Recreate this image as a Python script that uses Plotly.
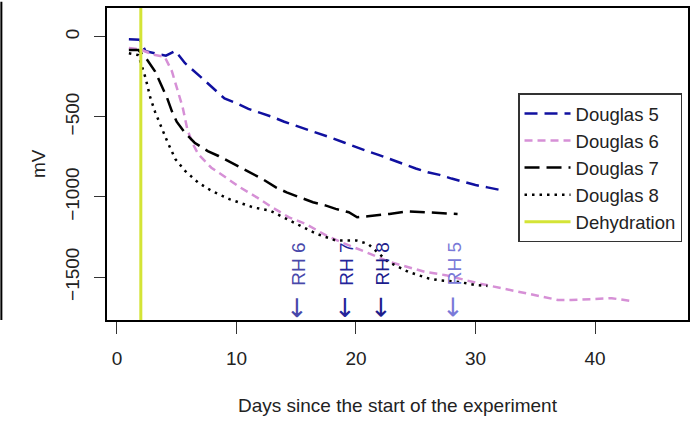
import plotly.graph_objects as go

# ---- data ----
d5_days = [1, 1.9, 2.4, 3.3, 4.1, 4.9, 5.7, 7, 8, 9, 10, 11, 12, 13, 14, 15, 16, 17, 18, 19, 20,
           21, 22, 23, 24, 25, 26, 27, 28, 29, 30, 31, 32]
d5_mv = [-15, -18, -90, -105, -118, -88, -165, -250, -320, -385, -415, -450, -475, -500, -530,
         -555, -578, -605, -632, -660, -690, -715, -740, -768, -795, -822, -845, -862, -885,
         -905, -925, -940, -955]

d6_days = [1, 2, 3, 4, 4.6, 5.0, 5.5, 5.9, 6.3, 6.8, 7.9, 9.3, 10.3, 11.7, 13, 14.4, 15.8, 17.5,
           19, 20.8, 22.8, 25.8, 27.5, 30.3, 33, 35.3, 36.9, 38, 40.6, 41.4, 43]
d6_mv = [-70, -80, -110, -125, -215, -320, -440, -580, -660, -733, -817, -888, -940, -1002, -1065,
         -1127, -1168, -1240, -1290, -1343, -1405, -1468, -1488, -1540, -1581, -1616, -1643,
         -1643, -1632, -1632, -1649]

d7_days = [1, 1.8, 2.4, 3.2, 4.2, 4.6, 5.0, 5.7, 6.5, 7.6, 8.5, 9.6, 10.3, 11.4, 12.2, 13.3, 14.2,
           15.3, 16.4, 17.5, 18.3, 19.4, 20.1, 21, 22.8, 24.3, 25.5, 28.5]
d7_mv = [-83, -83, -130, -217, -382, -465, -530, -600, -661, -713, -744, -786, -816, -857, -889,
         -940, -971, -1002, -1033, -1054, -1074, -1095, -1127, -1120, -1106, -1089, -1095, -1106]

d8_days = [1, 1.8, 2.4, 2.8, 3.2, 3.6, 4.2, 4.9, 5.7, 6.8, 7.9, 9.4, 11.4, 12.8, 14.2, 15, 16.7,
           18.3, 20, 21, 22.7, 24.4, 26.1, 27, 28.6, 30, 31]
d8_mv = [-103, -114, -258, -382, -470, -545, -651, -765, -837, -910, -961, -1013, -1065, -1085,
         -1137, -1168, -1230, -1271, -1271, -1292, -1405, -1468, -1509, -1520, -1530, -1550, -1555]

dehydration_day = 2

rh_days = [15, 19, 22, 28]
rh_labels = ["RH 6", "RH 7", "RH 8", "RH 5"]
rh_colors = ["#4848aa", "#24249a", "#1c1c8c", "#7a7ad8"]

x_ticks = [0, 10, 20, 30, 40]
y_ticks = [0, -500, -1000, -1500]

x_range = [-0.83, 47.78]
y_range = [-1768, 180]

FONT = "Arial, Liberation Sans, sans-serif"

fig = go.Figure()
fig.add_trace(go.Scatter(x=d5_days, y=d5_mv, mode="lines", name="Douglas 5",
                         line=dict(color="#1010a0", width=2.5, dash="13px,7px")))
fig.add_trace(go.Scatter(x=d6_days, y=d6_mv, mode="lines", name="Douglas 6",
                         line=dict(color="#d690d6", width=2.5, dash="8px,5px")))
fig.add_trace(go.Scatter(x=d7_days, y=d7_mv, mode="lines", name="Douglas 7",
                         line=dict(color="black", width=2.5, dash="15px,7px")))
fig.add_trace(go.Scatter(x=d8_days, y=d8_mv, mode="lines", name="Douglas 8",
                         line=dict(color="black", width=2.5, dash="2.5px,5px")))
fig.add_trace(go.Scatter(x=[dehydration_day, dehydration_day], y=y_range, mode="lines",
                         name="Dehydration", line=dict(color="#d4e436", width=3)))

for d, lab, c in zip(rh_days, rh_labels, rh_colors):
    fig.add_annotation(
        x=d, y=y_range[0], xref="x", yref="y",
        text='<span style="font-family:DejaVu Sans;font-size:26px">\u2190</span>  ' + lab,
        textangle=-90, showarrow=False, xanchor="center", yanchor="bottom",
        font=dict(family=FONT, size=19, color=c))

# y-axis title
fig.add_annotation(x=0, y=0.5, xref="paper", yref="paper", text="mV", textangle=-90,
                   showarrow=False, xanchor="center", yanchor="middle", xshift=-69,
                   font=dict(family=FONT, size=19, color="#222"))
# x-axis title
fig.add_annotation(x=0.5, y=0, xref="paper", yref="paper",
                   text="Days since the start of the experiment",
                   showarrow=False, xanchor="center", yanchor="middle", yshift=-85,
                   font=dict(family=FONT, size=19, color="#222"))

# left border of neighbouring panel
fig.add_shape(type="line", xref="paper", yref="paper", x0=-106 / 583, x1=-106 / 583,
              y0=0, y1=1.02, line=dict(color="black", width=2))

fig.update_layout(
    width=696, height=421,
    margin=dict(l=107, r=6, t=6, b=101),
    paper_bgcolor="white", plot_bgcolor="white",
    font=dict(family=FONT, size=19, color="#222"),
    showlegend=True,
    legend=dict(x=0.9897, y=0.726, xanchor="right", yanchor="top",
                bgcolor="white", bordercolor="#333", borderwidth=1.5,
                font=dict(family=FONT, size=18.5, color="#222"),
                itemwidth=46, tracegroupgap=0),
)
fig.update_xaxes(range=x_range, tickvals=x_ticks, ticks="outside", ticklen=12,
                 tickcolor="#333", showgrid=False, zeroline=False, showline=True,
                 linecolor="black", linewidth=1.5, mirror=True, ticklabelstandoff=8,
                 tickfont=dict(size=19))
fig.update_yaxes(range=y_range, tickvals=y_ticks, ticks="outside", ticklen=11,
                 tickcolor="#333", showgrid=False, zeroline=False, showline=True,
                 linecolor="black", linewidth=1.5, mirror=True, tickangle=-90,
                 ticklabelstandoff=8, tickfont=dict(size=19))

fig.write_html("out.html")
